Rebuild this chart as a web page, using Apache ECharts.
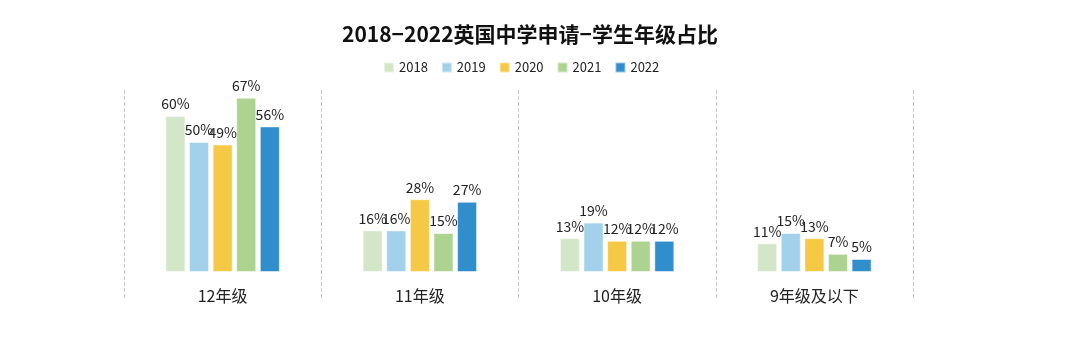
<!DOCTYPE html>
<html>
<head>
<meta charset="utf-8">
<script src="https://cdn.jsdelivr.net/npm/echarts@6/dist/echarts.min.js"></script>
<style>html,body{margin:0;padding:0;background:#fff}#c{width:1077px;height:359px}</style>
</head>
<body>
<div id="c"></div>
<script>
const categories = ['12年级', '11年级', '10年级', '9年级及以下'];
const years = ['2018', '2019', '2020', '2021', '2022'];
const v2018 = [60, 16, 13, 11];
const v2019 = [50, 16, 19, 15];
const v2020 = [49, 28, 12, 13];
const v2021 = [67, 15, 12, 7];
const v2022 = [56, 27, 12, 5];
const colors = ['#d3e6c7', '#a3d0ea', '#f5c846', '#acd390', '#318ecd'];
const seriesValues = [v2018, v2019, v2020, v2021, v2022];

const chart = echarts.init(document.getElementById('c'));
chart.setOption({
  animation: false,
  title: {
    text: '2018−2022英国中学申请−学生年级占比',
    left: 525, top: 19, textAlign: 'center',
    textStyle: { fontFamily: 'Noto Sans CJK SC', fontSize: 21, fontWeight: 'bold', color: '#111' }
  },
  legend: {
    data: years,
    left: 378, top: 56,
    itemWidth: 10, itemHeight: 10, itemGap: 13,
    icon: 'rect',
    textStyle: { fontFamily: 'Noto Sans CJK SC', fontSize: 13, color: '#222' }
  },
  grid: { left: 124, right: 164, top: 90, bottom: 61 },
  xAxis: {
    type: 'category', data: categories,
    axisLine: { show: false },
    axisTick: { show: false },
    axisLabel: { margin: -10, fontFamily: 'Noto Sans CJK SC', fontSize: 16, color: '#222' },
    splitLine: { show: true, lineStyle: { type: 'dashed', color: '#c8c8c8', width: 1 } }
  },
  yAxis: {
    type: 'value', min: -10, max: 70, show: false,
    splitLine: { show: false }
  },
  series: years.map((y, i) => ({
    name: y, type: 'bar', data: seriesValues[i],
    barWidth: 20, barGap: '18%', barCategoryGap: '42%',
    itemStyle: { color: colors[i], borderColor: 'rgba(255,255,255,0.5)', borderWidth: 1 },
    label: {
      show: true, position: 'top', distance: 5, formatter: '{c}%',
      fontFamily: 'Noto Sans CJK SC', fontSize: 14, color: '#222'
    }
  }))
});
</script>
</body>
</html>
